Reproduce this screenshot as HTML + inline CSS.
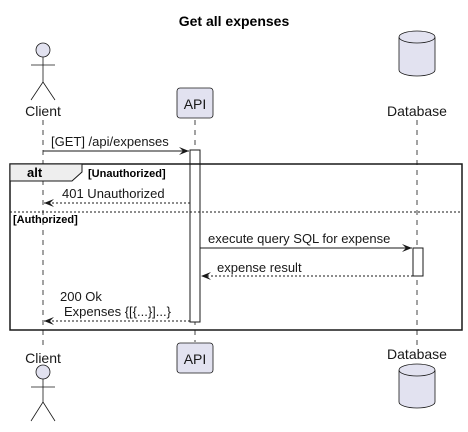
<!DOCTYPE html><html><head><style>body{margin:0;background:#fff}</style></head><body>
<svg width="468" height="427" xmlns="http://www.w3.org/2000/svg" font-family="Liberation Sans, sans-serif">
<defs><marker id="a" markerWidth="10" markerHeight="8" refX="10" refY="4" orient="auto" markerUnits="userSpaceOnUse"><path d="M0,0 L10,4 L0,8 L4,4 Z" fill="#181818"/></marker></defs>
<text x="234" y="26" font-size="14" font-weight="bold" text-anchor="middle">Get all expenses</text>
<g stroke="#181818" stroke-width="0.8" stroke-dasharray="5,5">
<line x1="43" y1="120" x2="43" y2="345"/><line x1="195" y1="120" x2="195" y2="342"/><line x1="417" y1="120" x2="417" y2="345"/></g>
<g stroke="#181818" fill="#E2E2F0" stroke-width="0.8">
<circle cx="43" cy="50" r="7"/><path d="M43,57 V82 M31,65 H55 M31,100 L43,82 L55,100" fill="none"/>
<circle cx="43" cy="372" r="7"/><path d="M43,379 V402 M31,387 H55 M31,421 L43,402 L55,421" fill="none"/>
<rect x="177" y="88" width="36" height="30" rx="3"/><rect x="177" y="343" width="36" height="30" rx="3"/>
<path d="M399,37 V70 A18,6 0 0 0 435,70 V37 A18,6 0 0 0 399,37 A18,6 0 0 0 435,37"/>
<path d="M399,370 V402 A18,6 0 0 0 435,402 V370 A18,6 0 0 0 399,370 A18,6 0 0 0 435,370"/>
</g>
<g font-size="14" text-anchor="middle" fill="#181818">
<text x="43" y="116">Client</text><text x="43" y="363">Client</text>
<text x="195" y="109">API</text><text x="195" y="364">API</text>
<text x="417" y="116">Database</text><text x="417" y="359">Database</text></g>
<rect x="190" y="150" width="10" height="172" fill="#fff" stroke="#181818"/>
<rect x="413" y="248" width="10" height="28" fill="#fff" stroke="#181818"/>
<rect x="10" y="164" width="452" height="166" fill="none" stroke="#181818" stroke-width="1.5"/>
<path d="M10,164 H82 V172 L72,181 H10 Z" fill="#EEE" stroke="#181818"/>
<text x="27" y="177" font-size="13" font-weight="bold">alt</text>
<text x="88" y="177" font-size="11" font-weight="bold">[Unauthorized]</text>
<line x1="10" y1="212" x2="462" y2="212" stroke="#181818" stroke-dasharray="2,2"/>
<text x="13" y="223" font-size="11" font-weight="bold">[Authorized]</text>
<g stroke="#181818" fill="none">
<line x1="43" y1="151" x2="189" y2="151" marker-end="url(#a)"/>
<line x1="190" y1="203" x2="44" y2="203" stroke-dasharray="2,2" marker-end="url(#a)"/>
<line x1="200" y1="248" x2="412" y2="248" marker-end="url(#a)"/>
<line x1="413" y1="276" x2="201" y2="276" stroke-dasharray="2,2" marker-end="url(#a)"/>
<line x1="190" y1="321" x2="44" y2="321" stroke-dasharray="2,2" marker-end="url(#a)"/></g>
<g font-size="13" fill="#181818">
<text x="51" y="146">[GET] /api/expenses</text>
<text x="62" y="198">401 Unauthorized</text>
<text x="208" y="243">execute query SQL for expense</text>
<text x="217" y="272">expense result</text>
<text x="60" y="301">200 Ok</text>
<text x="64" y="316">Expenses {[{...}]...}</text></g>
</svg></body></html>
